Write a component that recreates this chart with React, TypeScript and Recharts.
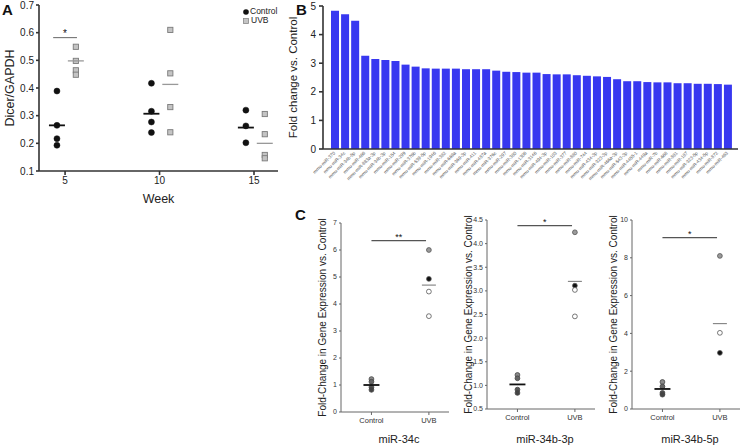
import React from 'react';
import {
  ScatterChart, Scatter, XAxis, YAxis, BarChart, Bar, ReferenceLine, Legend, Cell,
} from 'recharts';

const FONT = '"Liberation Sans", Arial, Helvetica, sans-serif';

// ---------- Panel A data ----------
const weeks = [5, 10, 15];
const dicerControl = [
  [0.389, 0.265, 0.217, 0.193],
  [0.417, 0.316, 0.277, 0.239],
  [0.320, 0.263, 0.202],
];
const dicerUVB = [
  [0.549, 0.498, 0.464, 0.448],
  [0.610, 0.453, 0.331, 0.240],
  [0.306, 0.233, 0.158, 0.146],
];
const dicerControlMean = [0.265, 0.307, 0.257];
const dicerUVBMean = [0.498, 0.413, 0.200];
const dicerTicks = [0.1, 0.2, 0.3, 0.4, 0.5, 0.6, 0.7];
const dicerSigLevel = 0.582;
const dicerSigLabel = '*';

// ---------- Panel B data ----------
const mirLabels = [
  'mmu-miR-370', 'mmu-miR-34c', 'mmu-miR-34b-5p', 'mmu-miR-466', 'mmu-miR-883a-3p',
  'mmu-miR-34b-3p', 'mmu-miR-154', 'mmu-miR-299', 'mmu-miR-376b', 'mmu-miR-539-5p',
  'mmu-miR-1946', 'mmu-miR-382', 'mmu-miR-669a', 'mmu-miR-369-3p', 'mmu-miR-411',
  'mmu-miR-487a', 'mmu-miR-376c', 'mmu-miR-297', 'mmu-miR-380', 'mmu-miR-1306',
  'mmu-miR-3146', 'mmu-miR-494-3p', 'mmu-miR-103', 'mmu-miR-377', 'mmu-miR-880',
  'mmu-miR-744', 'mmu-miR-434-3p', 'mmu-miR-323-3p', 'mmu-miR-466a-3p', 'mmu-miR-543-3p',
  'mmu-miR-4455-1', 'mmu-miR-449a', 'mmu-miR-7b', 'mmu-miR-668', 'mmu-miR-881',
  'mmu-miR-187', 'mmu-miR-323-5p', 'mmu-miR-434-5p', 'mmu-miR-872', 'mmu-miR-463',
];
const foldChange = [
  4.83, 4.71, 4.48, 3.26, 3.15, 3.11, 3.08, 2.95, 2.88, 2.82,
  2.81, 2.81, 2.81, 2.79, 2.79, 2.79, 2.74, 2.70, 2.69, 2.67,
  2.67, 2.62, 2.61, 2.61, 2.58, 2.56, 2.54, 2.52, 2.44, 2.37,
  2.37, 2.34, 2.33, 2.33, 2.30, 2.30, 2.28, 2.28, 2.27, 2.25,
];
const foldTicks = [0, 1, 2, 3, 4, 5];

// ---------- Panel C data ----------
const cGroups = ['Control', 'UVB'];
const cGenes = ['miR-34c', 'miR-34b-3p', 'miR-34b-5p'];
const cControl = [
  [1.22, 1.12, 0.92, 0.82],
  [1.22, 1.15, 0.91, 0.84],
  [1.43, 1.19, 0.85, 0.76],
];
const cUVB = [
  [6.0, 4.93, 4.46, 3.55],
  [4.24, 3.11, 3.02, 2.46],
  [8.1, 4.03, 2.97],
];
const cControlMean = [1.0, 1.02, 1.06];
const cUVBMean = [4.7, 3.2, 4.52];
const cSigLevel = [6.35, 4.38, 9.07];
const cSigLabel = ['**', '*', '*'];
const cYTicks = [
  [0, 1, 2, 3, 4, 5, 6, 7],
  [0.5, 1.0, 1.5, 2.0, 2.5, 3.0, 3.5, 4.0, 4.5],
  [0, 2, 4, 6, 8, 10],
];

// styles (kept apart from the values)
const cUVBFills = [
  ['#9a9a9a', '#111111', '#ffffff', '#ffffff'],
  ['#9a9a9a', '#111111', '#ffffff', '#ffffff'],
  ['#9a9a9a', '#ffffff', '#111111'],
];
const cControlFills = ['#8a8a8a', '#666666', '#555555', '#444444'];

const CTRL_OFF = -0.43;
const UVB_OFF = 0.57;

const circleShape = (r: number, fill: string, stroke: string, sw = 0.8) => (p: any) => (
  <circle cx={p.cx} cy={p.cy} r={r} fill={p.fill && p.fill !== 'none' && fill === 'cell' ? p.fill : fill} stroke={stroke} strokeWidth={sw} />
);
const squareShape = (p: any) => (
  <rect x={p.cx - 2.6} y={p.cy - 2.6} width={5.2} height={5.2} fill="#c4c4c4" stroke="#7a7a7a" strokeWidth={0.9} />
);
const meanShape = (half: number, color: string, w: number) => (p: any) => (
  <line x1={p.cx - half} x2={p.cx + half} y1={p.cy} y2={p.cy} stroke={color} strokeWidth={w} />
);

function PanelA() {
  const ctrlPts = weeks.flatMap((w, i) => dicerControl[i].map((v) => ({ x: w + CTRL_OFF, y: v })));
  const uvbPts = weeks.flatMap((w, i) => dicerUVB[i].map((v) => ({ x: w + UVB_OFF, y: v })));
  const ctrlMean = weeks.map((w, i) => ({ x: w + CTRL_OFF, y: dicerControlMean[i] }));
  const uvbMean = weeks.map((w, i) => ({ x: w + UVB_OFF, y: dicerUVBMean[i] }));
  const domX: [number, number] = [3.62, 16.27];
  const axisColor = '#333';
  return (
    <div style={{ position: 'absolute', left: 0, top: 0 }}>
      <ScatterChart width={290} height={205} margin={{ top: 5, right: 12, left: 0, bottom: 0 }}>
        <XAxis type="number" dataKey="x" domain={domX} ticks={weeks} allowDataOverflow
          height={34} tickSize={4} tickMargin={2}
          stroke={axisColor} strokeWidth={1.6}
          tick={{ fontSize: 10, fill: '#222', fontFamily: FONT }}
          label={{ value: 'Week', position: 'insideBottom', offset: 2, fill: '#222', style: { fontSize: 12.5, fill: '#222', fontFamily: FONT } }} />
        <XAxis xAxisId="top" orientation="top" type="number" domain={domX} height={0}
          tick={false} tickLine={false} stroke={axisColor} strokeWidth={1.6} />
        <YAxis type="number" dataKey="y" domain={[0.1, 0.7]} ticks={dicerTicks} width={39}
          tickSize={3} tickMargin={2} stroke={axisColor} strokeWidth={1.6}
          tickFormatter={(v: number) => v.toFixed(1)}
          tick={{ fontSize: 10, fill: '#222', fontFamily: FONT }}
          label={{ value: 'Dicer/GAPDH', angle: -90, position: 'insideLeft', offset: 10, fill: '#222',
            style: { textAnchor: 'middle', fontSize: 12.5, fill: '#222', fontFamily: FONT } }} />
        <YAxis yAxisId="right" orientation="right" type="number" domain={[0.1, 0.7]} width={0}
          tick={false} tickLine={false} stroke={axisColor} strokeWidth={1.6} />
        <ReferenceLine segment={[{ x: weeks[0] - 0.63, y: dicerSigLevel }, { x: weeks[0] + 0.63, y: dicerSigLevel }]}
          stroke="#666" strokeWidth={1}
          label={{ value: dicerSigLabel, position: 'top', offset: 1, fill: '#111', style: { fontSize: 10, fill: '#111', fontFamily: FONT } }} />
        <Scatter name="Control" data={ctrlPts} legendType="circle" fill="#111" isAnimationActive={false}
          shape={circleShape(3, '#111', '#111', 0.5)} />
        <Scatter name="UVB" data={uvbPts} legendType="square" fill="#c4c4c4" isAnimationActive={false}
          shape={squareShape} />
        <Scatter name="ctrlMean" data={ctrlMean} legendType="none" isAnimationActive={false}
          shape={meanShape(8, '#111', 1.8)} />
        <Scatter name="uvbMean" data={uvbMean} legendType="none" isAnimationActive={false}
          shape={meanShape(8, '#999', 1.3)} />
        <Legend layout="vertical" align="center" verticalAlign="middle"
          wrapperStyle={{ left: 243, top: 7, width: 45 }}
          content={() => (
            <div style={{ fontFamily: FONT, fontSize: 8.5, color: '#222', lineHeight: '9px' }}>
              <div style={{ display: 'flex', alignItems: 'center' }}>
                <svg width={6} height={6} style={{ marginRight: 1 }}><circle cx={3} cy={3} r={2.8} fill="#111" /></svg>Control
              </div>
              <div style={{ display: 'flex', alignItems: 'center' }}>
                <svg width={6} height={6} style={{ marginRight: 2 }}><rect x={0.5} y={0.5} width={5} height={5} fill="#c4c4c4" stroke="#888" strokeWidth={0.8} /></svg>UVB
              </div>
            </div>
          )} />
      </ScatterChart>
    </div>
  );
}

const MirTick = (props: any) => {
  const { x, y, payload } = props;
  return (
    <g transform={`translate(${x - 1},${y})`}>
      <text transform="rotate(-45)" textAnchor="end" fontSize={4.6} fill="#555" fontFamily={FONT} dy={2}>
        {payload.value}
      </text>
    </g>
  );
};

function PanelB() {
  const data = mirLabels.map((m, i) => ({ mir: m, fc: foldChange[i] }));
  const axisColor = '#333';
  return (
    <div style={{ position: 'absolute', left: 280, top: 0 }}>
      <BarChart width={463} height={200} data={data} margin={{ top: 6, right: 5, left: 0, bottom: 0 }}
        barCategoryGap="10%">
        <XAxis dataKey="mir" interval={0} height={51} tickSize={3} tickMargin={0} tickLine={false}
          padding={{ left: 7, right: 5 }} stroke={axisColor} strokeWidth={1.6} tick={<MirTick />} />
        <XAxis xAxisId="top" orientation="top" dataKey="mir" height={0} tick={false} tickLine={false}
          stroke={axisColor} strokeWidth={1.6} />
        <YAxis domain={[0, 5]} ticks={foldTicks} width={43} tickSize={4} tickMargin={3}
          stroke={axisColor} strokeWidth={1.6}
          tick={{ fontSize: 10, fill: '#222', fontFamily: FONT }}
          label={{ value: 'Fold change vs. Control', angle: -90, position: 'insideLeft', offset: 13, fill: '#222',
            style: { textAnchor: 'middle', fontSize: 11.5, fill: '#222', fontFamily: FONT } }} />
        <YAxis yAxisId="right" orientation="right" domain={[0, 5]} width={0} tick={false} tickLine={false}
          stroke={axisColor} strokeWidth={1.6} />
        <Bar dataKey="fc" fill="#3838f0" isAnimationActive={false} />
      </BarChart>
    </div>
  );
}

function PanelC({ idx, left, top, xh }: { idx: number; left: number; top: number; xh: number }) {
  const ctrl = cControl[idx].map((v) => ({ x: 1, y: v }));
  const uvb = cUVB[idx].map((v) => ({ x: 2, y: v }));
  const cm = [{ x: 1, y: cControlMean[idx] }];
  const um = [{ x: 2, y: cUVBMean[idx] }];
  const ticks = cYTicks[idx];
  const dom: [number, number] = [ticks[0], ticks[ticks.length - 1]];
  const axisColor = '#666';
  const decimals = idx === 1 ? 1 : 0;
  return (
    <div style={{ position: 'absolute', left, top: 200 }}>
      <ScatterChart width={139} height={245} margin={{ top, right: 0, left: 0, bottom: 0 }}>
        <XAxis type="number" dataKey="x" domain={[0.47, 2.35]} ticks={[1, 2]} allowDataOverflow
          height={xh} tickSize={3} tickMargin={3} stroke={axisColor}
          tickFormatter={(v: number) => cGroups[v - 1]}
          tick={{ fontSize: 7.5, fill: '#333', fontFamily: FONT }}
          label={{ value: cGenes[idx], position: 'insideBottom', offset: 2, dx: 4, fill: '#222',
            style: { fontSize: 11, fill: '#222', fontFamily: FONT } }} />
        <YAxis type="number" dataKey="y" domain={dom} ticks={ticks} width={31} tickSize={2} tickMargin={2}
          stroke={axisColor} tickFormatter={(v: number) => v.toFixed(decimals)}
          tick={{ fontSize: 7, fill: '#333', fontFamily: FONT }}
          label={{ value: 'Fold-Change in Gene Expression vs. Control', angle: -90, position: 'insideLeft', offset: 12.5, fill: '#222',
            style: { textAnchor: 'middle', fontSize: 10, fill: '#222', fontFamily: FONT } }} />
        <ReferenceLine segment={[{ x: 1.0, y: cSigLevel[idx] }, { x: 1.95, y: cSigLevel[idx] }]}
          stroke="#555" strokeWidth={1.3}
          label={{ value: cSigLabel[idx], position: 'top', offset: 1, fill: '#111', style: { fontSize: 9, fill: '#111', fontFamily: FONT } }} />
        <Scatter data={ctrl} isAnimationActive={false} shape={circleShape(2.4, 'cell', '#444', 0.8)}>
          {ctrl.map((_, i) => <Cell key={i} fill={cControlFills[i % cControlFills.length]} />)}
        </Scatter>
        <Scatter data={uvb} isAnimationActive={false} shape={circleShape(2.4, 'cell', '#555', 0.8)}>
          {uvb.map((_, i) => <Cell key={i} fill={cUVBFills[idx][i]} />)}
        </Scatter>
        <Scatter data={cm} isAnimationActive={false} shape={meanShape(8, '#111', 1.8)} />
        <Scatter data={um} isAnimationActive={false} shape={meanShape(7, '#888', 1.2)} />
      </ScatterChart>
    </div>
  );
}

export default function App() {
  return (
    <div style={{ position: 'absolute', left: 0, top: 0, width: 743, height: 445, background: '#fff', fontFamily: FONT, overflow: 'hidden' }}>
      <PanelA />
      <PanelB />
      <PanelC idx={0} left={310} top={23} xh={33} />
      <PanelC idx={1} left={456} top={20} xh={36} />
      <PanelC idx={2} left={601} top={20} xh={36} />
      <svg width={743} height={445} style={{ position: 'absolute', left: 0, top: 0, pointerEvents: 'none' }}>
        <text x={2} y={15} fontSize={15} fontWeight="bold" fontFamily={FONT} fill="#111">A</text>
        <text x={296} y={15} fontSize={15} fontWeight="bold" fontFamily={FONT} fill="#111">B</text>
        <text x={295} y={220} fontSize={15} fontWeight="bold" fontFamily={FONT} fill="#111">C</text>
      </svg>
    </div>
  );
}
